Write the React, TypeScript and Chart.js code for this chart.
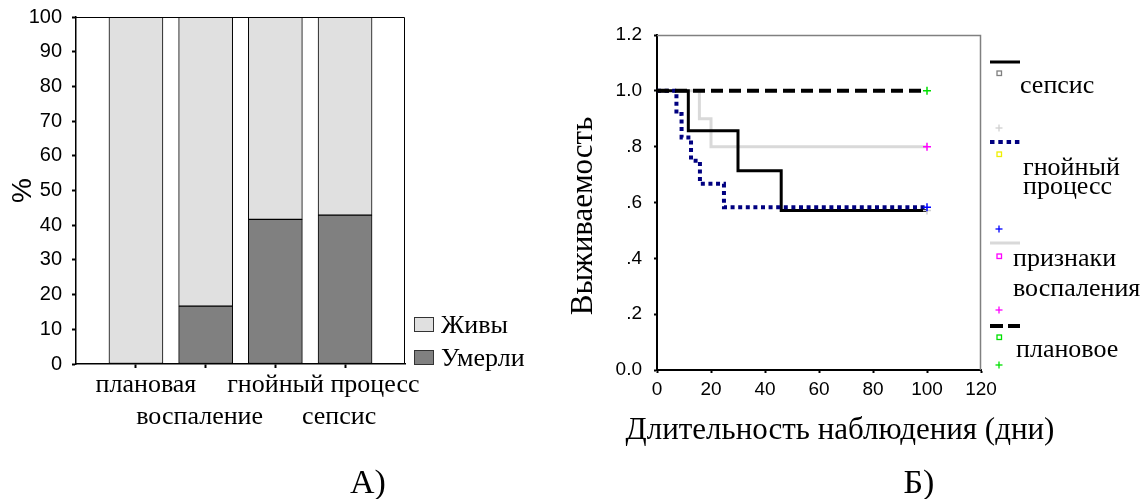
import React, { useEffect, useRef } from 'react';
import { Chart, registerables } from 'chart.js';

Chart.register(...registerables);

const SERIF = '"Liberation Serif", "Times New Roman", serif';
const SANS = '"Liberation Sans", Arial, sans-serif';

// А) outcome by group, %
const groups = ['плановая', 'воспаление', 'гнойный процесс', 'сепсис'];
const diedPct = [0, 16.7, 41.7, 42.9];
const alivePct = [100, 83.3, 58.3, 57.1];
const pctTicks = [0, 10, 20, 30, 40, 50, 60, 70, 80, 90, 100];
const outcomeLabels = ['Живы', 'Умерли'];

// Б) Kaplan–Meier survival (day of event, cumulative survival after it)
const electiveDays = [0, 100];
const electiveSurv = [1, 1];
const purulentDays = [0, 7.2, 9.1, 12.6, 15.9, 24.8, 100];
const purulentSurv = [1, 0.917, 0.833, 0.75, 0.667, 0.583, 0.583];
const sepsisDays = [0, 11.6, 30, 46, 100];
const sepsisSurv = [1, 0.857, 0.714, 0.571, 0.571];
const inflammationDays = [0, 15.7, 20, 100];
const inflammationSurv = [1, 0.9, 0.8, 0.8];
const dayTicks = [0, 20, 40, 60, 80, 100, 120];
const survTicks = [0, 0.2, 0.4, 0.6, 0.8, 1.0, 1.2];
const survTickLabels = ['0.0', '.2', '.4', '.6', '.8', '1.0', '1.2'];
const kmAxisTitles = { x: 'Длительность наблюдения (дни)', y: 'Выживаемость' };

// first entry is painted on top
const kmSeries = [
  { key: 'плановое', lines: ['плановое'], days: electiveDays, surv: electiveSurv, color: '#000000', width: 4, dash: [12, 6], censor: '#00e000', marker: '#00e000' },
  { key: 'гнойный процесс', lines: ['гнойный', 'процесс'], days: purulentDays, surv: purulentSurv, color: '#000080', width: 4, dash: [4, 3.6], censor: '#0000ff', marker: '#f0f000' },
  { key: 'сепсис', lines: ['сепсис'], days: sepsisDays, surv: sepsisSurv, color: '#000000', width: 3, dash: [], censor: '#d0d0d0', marker: '#808080' },
  { key: 'признаки воспаления', lines: ['признаки', 'воспаления'], days: inflammationDays, surv: inflammationSurv, color: '#d9d9d9', width: 3, dash: [], censor: '#ff00ff', marker: '#ff00ff' },
];

// legend placement (page px), top to bottom
const kmLegendLayout = [
  { key: 'сепсис', lineY: 62, squareY: 73, textX: 1020, baselines: [93], plusY: 128, sampleDash: '' },
  { key: 'гнойный процесс', lineY: 142, squareY: 154, textX: 1023, baselines: [175, 194], plusY: 229, sampleDash: '4.5 3.8' },
  { key: 'признаки воспаления', lineY: 243, squareY: 256, textX: 1013, baselines: [266, 296], plusY: 310, sampleDash: '' },
  { key: 'плановое', lineY: 326, squareY: 337, textX: 1016, baselines: [357], plusY: 365, sampleDash: '13 5' },
];

const frame = (color: string, width: number) => ({
  id: 'frame',
  afterDatasetsDraw(chart: any) {
    const { ctx, chartArea: a } = chart;
    ctx.save();
    ctx.strokeStyle = color;
    ctx.lineWidth = width;
    ctx.beginPath();
    ctx.moveTo(a.left, a.top + 0.5);
    ctx.lineTo(a.right - 0.5, a.top + 0.5);
    ctx.lineTo(a.right - 0.5, a.bottom);
    ctx.stroke();
    ctx.restore();
  },
});

// category names under the bars, staggered on two rows
const groupLabelNudge = [10, -6, 48, -6];
const groupLabels = {
  id: 'groupLabels',
  afterDraw(chart: any) {
    const { ctx } = chart;
    const xs = chart.scales.x;
    ctx.save();
    ctx.font = `26px ${SERIF}`;
    ctx.fillStyle = '#000';
    ctx.textAlign = 'center';
    ctx.textBaseline = 'alphabetic';
    groups.forEach((g, i) => {
      const px = xs.getPixelForValue(i + 1) + groupLabelNudge[i];
      ctx.fillText(g, px, xs.top + 28 + (i % 2) * 32);
    });
    ctx.restore();
  },
};

export default function App() {
  const barRef = useRef<HTMLCanvasElement>(null);
  const kmRef = useRef<HTMLCanvasElement>(null);

  useEffect(() => {
    const bar = new Chart(barRef.current!, {
      type: 'bar',
      data: {
        datasets: [
          {
            label: outcomeLabels[1],
            data: groups.map((_, i) => ({ x: i + 1, y: diedPct[i] })),
            backgroundColor: '#808080',
            borderColor: '#000',
            borderWidth: 1,
            borderSkipped: false,
            barThickness: 54,
          },
          {
            label: outcomeLabels[0],
            data: groups.map((_, i) => ({ x: i + 1, y: alivePct[i] })),
            backgroundColor: '#e0e0e0',
            borderColor: '#000',
            borderWidth: 1,
            borderSkipped: false,
            barThickness: 54,
          },
        ],
      },
      options: {
        animation: false,
        responsive: false,
        events: [],
        layout: { padding: { top: 17, right: 135, left: 0, bottom: 0 } },
        plugins: { legend: { display: false }, tooltip: { enabled: false } },
        scales: {
          x: {
            type: 'linear',
            stacked: true,
            offset: false,
            min: 0.14,
            max: 4.86,
            afterBuildTicks: (s: any) => {
              s.ticks = groups.map((_, i) => ({ value: i + 1 }));
            },
            ticks: { display: false },
            grid: { offset: false, drawOnChartArea: false, tickLength: 4, tickWidth: 2, color: '#000' },
            border: { color: '#000', width: 1.5 },
            afterFit: (s: any) => {
              s.height = 76;
            },
          },
          y: {
            stacked: true,
            min: 0,
            max: 100,
            afterBuildTicks: (s: any) => {
              s.ticks = pctTicks.map((v) => ({ value: v }));
            },
            ticks: { font: { family: SANS, size: 20 }, color: '#000', padding: 10 },
            grid: { drawOnChartArea: false, tickLength: 4, tickWidth: 2, color: '#000' },
            border: { color: '#000', width: 1.5 },
            title: { display: true, text: '%', font: { family: SANS, size: 28 }, color: '#000', padding: { top: 6, bottom: 0 } },
            afterFit: (s: any) => {
              s.width = 76;
              s.paddingTop = 0;
              s.paddingBottom = 0;
            },
          },
        },
      },
      plugins: [frame('#000', 1), groupLabels],
    } as any);

    const km = new Chart(kmRef.current!, {
      type: 'line',
      data: {
        datasets: kmSeries.map((s) => ({
          label: s.key,
          data: s.days.map((d, i) => ({ x: d, y: s.surv[i] })),
          borderColor: s.color,
          borderWidth: s.width,
          borderDash: s.dash,
          borderCapStyle: 'butt',
          stepped: 'before',
          fill: false,
          pointStyle: 'cross',
          pointRadius: (c: any) => (c.dataIndex === s.days.length - 1 ? 4 : 0),
          pointBorderColor: s.censor,
          pointBorderWidth: 1.5,
          pointBackgroundColor: s.censor,
        })),
      },
      options: {
        animation: false,
        responsive: false,
        events: [],
        layout: { padding: { top: 35, right: 39, left: 0, bottom: 0 } },
        plugins: { legend: { display: false }, tooltip: { enabled: false } },
        scales: {
          x: {
            type: 'linear',
            min: 0,
            max: 120,
            afterBuildTicks: (s: any) => {
              s.ticks = dayTicks.map((v) => ({ value: v }));
            },
            ticks: { font: { family: SANS, size: 19 }, color: '#000', padding: 5, maxRotation: 0 },
            grid: { drawOnChartArea: false, tickLength: 3, tickWidth: 2, color: '#000' },
            border: { color: '#000', width: 2 },
            afterFit: (s: any) => {
              s.height = 90;
            },
          },
          y: {
            type: 'linear',
            min: 0,
            max: 1.2,
            afterBuildTicks: (s: any) => {
              s.ticks = survTicks.map((v) => ({ value: v }));
            },
            ticks: {
              font: { family: SANS, size: 19 },
              color: '#000',
              padding: 12,
              callback: (_v: any, i: number) => survTickLabels[i],
            },
            grid: { drawOnChartArea: false, tickLength: 3, tickWidth: 2, color: '#000' },
            border: { color: '#000', width: 2 },
            afterFit: (s: any) => {
              s.width = 117;
            },
          },
        },
      },
      plugins: [frame('#808080', 1.5)],
    } as any);

    return () => {
      bar.destroy();
      km.destroy();
    };
  }, []);

  const outcomeFills = ['#e0e0e0', '#808080'];
  const outcomeBoxY = [317, 350];

  return (
    <div style={{ position: 'absolute', left: 0, top: 0, width: 1142, height: 499, background: '#fff', overflow: 'hidden' }}>
      <canvas ref={barRef} width={540} height={440} style={{ position: 'absolute', left: 0, top: 0, width: 540, height: 440 }} />
      <canvas ref={kmRef} width={480} height={460} style={{ position: 'absolute', left: 540, top: 0, width: 480, height: 460 }} />
      <svg width={1142} height={499} style={{ position: 'absolute', left: 0, top: 0, pointerEvents: 'none' }}>
        {outcomeLabels.map((lab, i) => (
          <g key={lab}>
            <rect x={414.5} y={outcomeBoxY[i] + 0.5} width={19} height={14} fill={outcomeFills[i]} stroke="#333" strokeWidth={1} />
            <text x={441} y={outcomeBoxY[i] + 16} fontFamily={SERIF} fontSize={26} fill="#000">{lab}</text>
          </g>
        ))}
        <text x={840} y={439} textAnchor="middle" fontFamily={SERIF} fontSize={31} fill="#000">{kmAxisTitles.x}</text>
        <text transform="translate(592 216) rotate(-90)" textAnchor="middle" fontFamily={SERIF} fontSize={31} fill="#000">{kmAxisTitles.y}</text>
        {kmLegendLayout.map((L) => {
          const s = kmSeries.find((k) => k.key === L.key)!;
          return (
            <g key={L.key}>
              <line x1={990} x2={1020} y1={L.lineY} y2={L.lineY} stroke={s.color} strokeWidth={s.width} strokeDasharray={L.sampleDash || undefined} />
              <rect x={997} y={L.squareY - 2} width={4.5} height={4.5} fill="none" stroke={s.marker} strokeWidth={1.3} />
              {s.lines.map((t, j) => (
                <text key={t} x={L.textX} y={L.baselines[j]} fontFamily={SERIF} fontSize={26} fill="#000">{t}</text>
              ))}
              <line x1={995.5} x2={1002.5} y1={L.plusY} y2={L.plusY} stroke={s.censor} strokeWidth={1.3} />
              <line x1={999} x2={999} y1={L.plusY - 3.5} y2={L.plusY + 3.5} stroke={s.censor} strokeWidth={1.3} />
            </g>
          );
        })}
        <text x={368} y={493} textAnchor="middle" fontFamily={SERIF} fontSize={34} fill="#000">А)</text>
        <text x={919} y={493} textAnchor="middle" fontFamily={SERIF} fontSize={34} fill="#000">Б)</text>
      </svg>
    </div>
  );
}
